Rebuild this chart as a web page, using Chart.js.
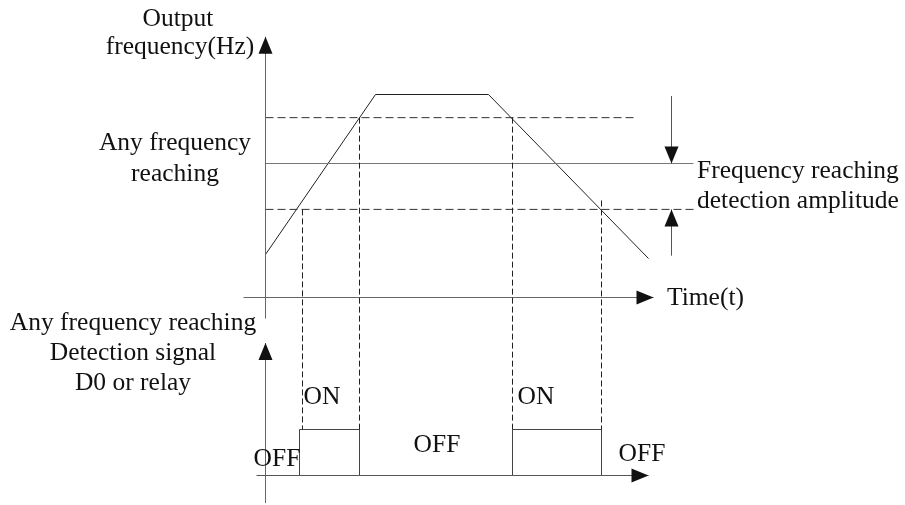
<!DOCTYPE html>
<html>
<head>
<meta charset="utf-8">
<script src="https://cdn.jsdelivr.net/npm/chart.js@4"></script>
<style>
  html, body { margin: 0; padding: 0; background: #fff; }
  canvas { display: block; }
</style>
</head>
<body>
<canvas id="diagram" width="905" height="505"></canvas>
<script>
// output frequency profile (time units vs Hz)
const rampTime = [0, 11, 22.3, 38.3];
const rampHz = [10.6, 50, 50, 9.6];

// horizontal reference levels: upper bound, any frequency reaching, lower bound
const levelHz = [44.3, 33, 21.7];
const levelEnd = [36.8, 42.8, 43.2];
const levelDashed = [true, false, true];

// detection signal ON intervals
const onStart = [3.4, 24.7];
const onEnd = [9.4, 33.6];

// drop lines from the frequency curve down to the signal
const dropTime = [3.7, 9.4, 24.7, 33.6];
const dropHz = [21.7, 44.3, 44.3, 23.9];

// layout: where value 0 sits on the canvas and how many px per unit
const W = 905, H = 505;
const tZero = 265.5, pxPerT = 10;
const fZero = 297.5, pxPerHz = 4.06;
const sZero = 475.5, pxPerS = 46;

const ink = '#111';
const line = (data, axis, opts) => Object.assign({
  data: data, yAxisID: axis, borderColor: '#333', borderWidth: 1,
  pointRadius: 0, fill: false, tension: 0
}, opts || {});

const datasets = [];
// axes
datasets.push(line([{x: -2.2, y: 0}, {x: 38.8, y: 0}], 'yf', {arrow: true, borderColor: '#666'}));
datasets.push(line([{x: 0, y: -5.2}, {x: 0, y: 64.2}], 'yf', {arrow: true, borderColor: '#666'}));
datasets.push(line([{x: -0.9, y: 0}, {x: 38.3, y: 0}], 'ys', {arrow: true, borderColor: '#555'}));
datasets.push(line([{x: 0, y: -0.6}, {x: 0, y: 2.88}], 'ys', {arrow: true, borderColor: '#666'}));

// reference levels
levelHz.forEach((f, i) => {
  datasets.push(line([{x: 0, y: f}, {x: levelEnd[i], y: f}], 'yf', {
    borderColor: levelDashed[i] ? '#333' : '#777',
    borderDash: levelDashed[i] ? [8, 4] : []
  }));
});

// frequency curve
datasets.push(line(rampTime.map((t, i) => ({x: t, y: rampHz[i]})), 'yf', {borderColor: '#222'}));

// detection amplitude arrows
datasets.push(line([{x: 40.6, y: 49.6}, {x: 40.6, y: levelHz[1]}], 'yf', {arrow: true, borderColor: '#555'}));
datasets.push(line([{x: 40.6, y: 10.3}, {x: 40.6, y: levelHz[2]}], 'yf', {arrow: true, borderColor: '#555'}));

// ON pulses
onStart.forEach((s, i) => {
  datasets.push(line([{x: s, y: 0}, {x: s, y: 1}, {x: onEnd[i], y: 1}, {x: onEnd[i], y: 0}], 'ys', {borderColor: '#444'}));
});

// text placed in canvas pixels
const notes = [
  ['Output', 178, 19, 'center'],
  ['frequency(Hz)', 180, 47, 'center'],
  ['Any frequency', 175, 143, 'center'],
  ['reaching', 175, 174, 'center'],
  ['Frequency reaching', 697, 171, 'left'],
  ['detection amplitude', 697, 201, 'left'],
  ['Time(t)', 667, 298, 'left'],
  ['Any frequency reaching', 133, 323, 'center'],
  ['Detection signal', 133, 353, 'center'],
  ['D0 or relay', 133, 383, 'center'],
  ['ON', 322, 397, 'center'],
  ['ON', 536, 397, 'center'],
  ['OFF', 437, 445, 'center'],
  ['OFF', 277, 459, 'center'],
  ['OFF', 642, 454, 'center']
];

const overlay = {
  id: 'overlay',
  afterDatasetsDraw(chart) {
    const ctx = chart.ctx;
    const x = chart.scales.x, yf = chart.scales.yf, ys = chart.scales.ys;
    ctx.save();

    // dashed drops
    ctx.strokeStyle = '#222';
    ctx.lineWidth = 1;
    ctx.setLineDash([6, 3]);
    dropTime.forEach((t, i) => {
      const px = x.getPixelForValue(t);
      ctx.beginPath();
      ctx.moveTo(px, yf.getPixelForValue(dropHz[i]));
      ctx.lineTo(px, ys.getPixelForValue(1));
      ctx.stroke();
    });
    ctx.setLineDash([]);

    // arrow heads at the end of flagged datasets
    ctx.fillStyle = ink;
    chart.data.datasets.forEach((ds, i) => {
      if (!ds.arrow) return;
      const pts = chart.getDatasetMeta(i).data;
      const a = pts[pts.length - 2], b = pts[pts.length - 1];
      const ang = Math.atan2(b.y - a.y, b.x - a.x);
      const c = Math.cos(ang), s = Math.sin(ang);
      const len = 17, half = 7;
      ctx.beginPath();
      ctx.moveTo(b.x, b.y);
      ctx.lineTo(b.x - len * c + half * s, b.y - len * s - half * c);
      ctx.lineTo(b.x - len * c - half * s, b.y - len * s + half * c);
      ctx.closePath();
      ctx.fill();
    });

    // labels
    ctx.font = '25.5px "Liberation Serif", "Times New Roman", serif';
    ctx.fillStyle = ink;
    ctx.textBaseline = 'middle';
    notes.forEach(n => {
      ctx.textAlign = n[3];
      ctx.fillText(n[0], n[1], n[2]);
    });
    ctx.restore();
  }
};

new Chart(document.getElementById('diagram'), {
  type: 'line',
  data: { datasets: datasets },
  options: {
    responsive: false,
    animation: false,
    events: [],
    layout: { padding: 0 },
    plugins: { legend: { display: false }, tooltip: { enabled: false } },
    scales: {
      x: { type: 'linear', display: false, min: -tZero / pxPerT, max: (W - tZero) / pxPerT },
      yf: { type: 'linear', display: false, min: (fZero - H) / pxPerHz, max: fZero / pxPerHz },
      ys: { type: 'linear', display: false, min: (sZero - H) / pxPerS, max: sZero / pxPerS }
    }
  },
  plugins: [overlay]
});
</script>
</body>
</html>
